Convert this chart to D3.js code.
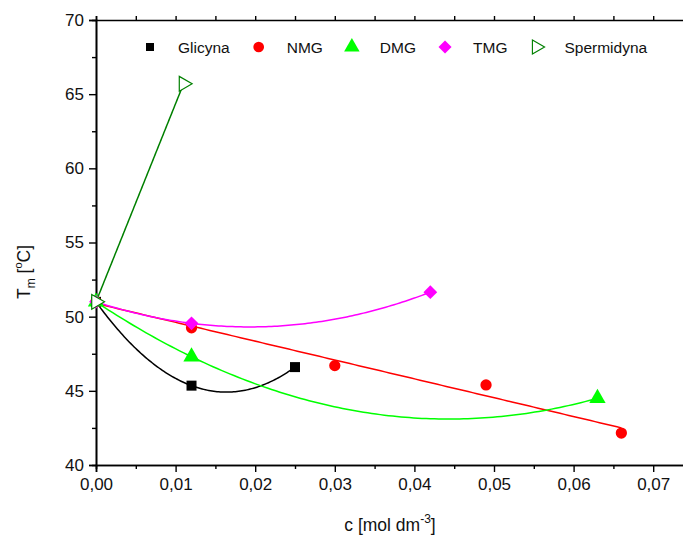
<!DOCTYPE html>
<html>
<head>
<meta charset="utf-8">
<script src="https://cdn.jsdelivr.net/npm/d3@7"></script>
<style>
body { margin: 0; background: #fff; }
text { font-family: "Liberation Sans", Arial, sans-serif; }
</style>
</head>
<body>
<svg width="683" height="541"></svg>
<script>
// values
var glicynaX = [0, 0.012, 0.025];
var glicynaY = [51, 45.35, 46.6];
var nmgX = [0, 0.012, 0.030, 0.049, 0.066];
var nmgY = [51, 49.25, 46.7, 45.4, 42.15];
var dmgX = [0, 0.012, 0.063];
var dmgY = [51, 47.3, 44.5];
var tmgX = [0, 0.012, 0.042];
var tmgY = [51, 49.55, 51.65];
var spermX = [0, 0.011];
var spermY = [51, 65.7];

var seriesNames = ["Glicyna", "NMG", "DMG", "TMG", "Spermidyna"];
var xTicks = [0, 0.01, 0.02, 0.03, 0.04, 0.05, 0.06, 0.07];
var xMinor = [0.005, 0.015, 0.025, 0.035, 0.045, 0.055, 0.065];
var yTicks = [40, 45, 50, 55, 60, 65, 70];
var yMinor = [42.5, 47.5, 52.5, 57.5, 62.5, 67.5];

var svg = d3.select("svg");
var margins = {top: 20, left: 96, bottom: 465};

var x = d3.scaleLinear().domain([0, 0.075]).range([margins.left, margins.left + 597]);
var y = d3.scaleLinear().domain([40, 70]).range([margins.bottom, margins.top]);

// least squares polynomial fit (like the Origin fit lines)
var polyFit = function(xs, ys, deg)
{
    var n = deg + 1;
    var A = [], b = [];
    for (var i = 0; i < n; i++) {
        A.push([]);
        for (var j = 0; j < n; j++) {
            A[i].push(d3.sum(xs, function(v) { return Math.pow(v, i + j); }));
        }
        b.push(d3.sum(xs, function(v, k) { return ys[k] * Math.pow(v, i); }));
    }
    for (var c = 0; c < n; c++) {
        var p = c;
        for (var r = c + 1; r < n; r++) if (Math.abs(A[r][c]) > Math.abs(A[p][c])) p = r;
        var t = A[c]; A[c] = A[p]; A[p] = t;
        var tb = b[c]; b[c] = b[p]; b[p] = tb;
        for (var r2 = c + 1; r2 < n; r2++) {
            var f = A[r2][c] / A[c][c];
            for (var k = c; k < n; k++) A[r2][k] -= f * A[c][k];
            b[r2] -= f * b[c];
        }
    }
    var coef = new Array(n);
    for (var i2 = n - 1; i2 >= 0; i2--) {
        var s = b[i2];
        for (var k2 = i2 + 1; k2 < n; k2++) s -= A[i2][k2] * coef[k2];
        coef[i2] = s / A[i2][i2];
    }
    return function(v) {
        return d3.sum(coef, function(a, k) { return a * Math.pow(v, k); });
    };
}

var series = [
    {name: seriesNames[0], xs: glicynaX, ys: glicynaY, deg: 2, color: "#000000", shape: "square"},
    {name: seriesNames[1], xs: nmgX, ys: nmgY, deg: 1, color: "#ff0000", shape: "circle"},
    {name: seriesNames[2], xs: dmgX, ys: dmgY, deg: 2, color: "#00ff00", shape: "triangle"},
    {name: seriesNames[3], xs: tmgX, ys: tmgY, deg: 2, color: "#ff00ff", shape: "diamond"},
    {name: seriesNames[4], xs: spermX, ys: spermY, deg: 1, color: "#008000", shape: "right"}
];

var symbolPath = function(shape)
{
    if (shape == "square") return d3.symbol().type(d3.symbolSquare).size(100)();
    if (shape == "circle") return d3.symbol().type(d3.symbolCircle).size(100)();
    if (shape == "triangle") return d3.symbol().type(d3.symbolTriangle).size(115)();
    if (shape == "diamond") return d3.symbol().type(d3.symbolSquare).size(95)();
    return d3.symbol().type(d3.symbolTriangle).size(95)();
}
var symbolRotate = function(shape)
{
    if (shape == "diamond") return 45;
    if (shape == "right") return 90;
    return 0;
}

// axes
var fmt = function(d) { return d3.format(".2f")(d).replace(".", ","); };

var axisG = svg.append("g").attr("id", "axes");

axisG.append("g")
    .attr("transform", "translate(0," + margins.bottom + ")")
    .call(d3.axisBottom(x).tickValues(xMinor).tickSize(4).tickFormat(""));
axisG.append("g")
    .attr("transform", "translate(0," + margins.bottom + ")")
    .call(d3.axisBottom(x).tickValues(xTicks).tickSize(7).tickPadding(6).tickFormat(fmt));

axisG.append("g")
    .attr("transform", "translate(" + margins.left + ",0)")
    .call(d3.axisLeft(y).tickValues(yMinor).tickSize(4).tickFormat(""));
axisG.append("g")
    .attr("transform", "translate(" + margins.left + ",0)")
    .call(d3.axisLeft(y).tickValues(yTicks).tickSize(7).tickPadding(5).tickFormat(d3.format("d")));

axisG.append("g")
    .attr("transform", "translate(0," + margins.top + ")")
    .call(d3.axisTop(x).tickValues(xTicks.concat(xMinor)).tickSize(4).tickFormat(""));

axisG.selectAll(".domain").attr("stroke", "#000").attr("stroke-width", 1.6);
axisG.selectAll(".tick line").attr("stroke", "#000").attr("stroke-width", 1.4);
axisG.selectAll(".tick text")
    .attr("font-size", 17)
    .attr("fill", "#111")
    .style("font-family", "'Liberation Sans', Arial, sans-serif");

// fit lines
var line = d3.line()
    .x(function(d) { return x(d[0]); })
    .y(function(d) { return y(d[1]); });

var plot = svg.append("g").attr("id", "graph");

series.forEach(function(s)
{
    var f = polyFit(s.xs, s.ys, s.deg);
    var x0 = d3.min(s.xs), x1 = d3.max(s.xs);
    var pts = d3.range(0, 121).map(function(i) {
        var v = x0 + (x1 - x0) * i / 120;
        return [v, f(v)];
    });
    plot.append("path")
        .attr("d", line(pts))
        .attr("fill", "none")
        .attr("stroke", s.color)
        .attr("stroke-width", 1.5);
});

series.forEach(function(s)
{
    plot.append("g").selectAll("path")
        .data(s.xs)
        .enter()
        .append("path")
        .attr("d", symbolPath(s.shape))
        .attr("transform", function(d, i) {
            return "translate(" + x(d) + "," + y(s.ys[i]) + ") rotate(" + symbolRotate(s.shape) + ")";
        })
        .attr("fill", s.shape == "right" ? "#fff" : s.color)
        .attr("stroke", s.shape == "right" ? s.color : "none")
        .attr("stroke-width", 1.2);
});

// legend
var legend = svg.append("g").attr("id", "legend").attr("transform", "translate(150,47)");
var lx = 0;
series.forEach(function(s)
{
    legend.append("path")
        .attr("d", symbolPath(s.shape))
        .attr("transform", "translate(" + lx + ",0) rotate(" + symbolRotate(s.shape) + ") scale(" + (s.shape == "square" ? 0.8 : 0.95) + ")")
        .attr("fill", s.shape == "right" ? "#fff" : s.color)
        .attr("stroke", s.shape == "right" ? s.color : "none")
        .attr("stroke-width", 1.2);
    var t = legend.append("text")
        .attr("x", lx + 28)
        .attr("y", 5.5)
        .attr("font-size", 15.5)
        .attr("fill", "#111")
        .text(s.name);
    lx += 28 + t.node().getComputedTextLength() + 29;
});

// axis titles
var xt = svg.append("text")
    .attr("x", 390)
    .attr("y", 531)
    .attr("text-anchor", "middle")
    .attr("font-size", 17.5)
    .attr("fill", "#111");
xt.append("tspan").text("c [mol dm");
xt.append("tspan").attr("dy", -8).attr("font-size", 12).text("-3");
xt.append("tspan").attr("dy", 8).text("]");

var yt = svg.append("text")
    .attr("transform", "translate(30,272) rotate(-90)")
    .attr("text-anchor", "middle")
    .attr("font-size", 17.5)
    .attr("fill", "#111");
yt.append("tspan").text("T");
yt.append("tspan").attr("dy", 5).attr("font-size", 12).text("m");
yt.append("tspan").attr("dy", -5).text(" [");
yt.append("tspan").attr("dy", -8).attr("font-size", 11).text("o");
yt.append("tspan").attr("dy", 8).text("C]");
</script>
</body>
</html>
